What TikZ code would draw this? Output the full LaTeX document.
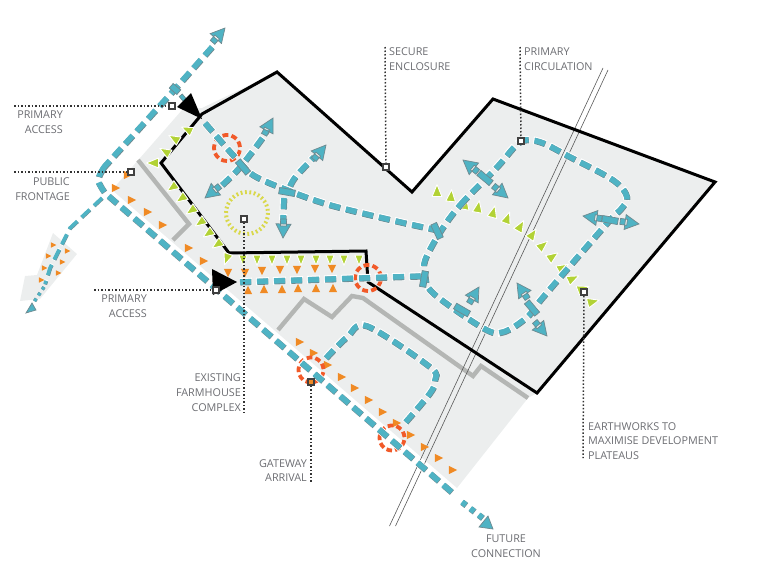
\documentclass[tikz,border=0pt]{standalone}
\usepackage{fontspec}
\setmainfont{Open Sans}
\definecolor{tealc}{HTML}{4FB3C4}
\definecolor{tealedge}{HTML}{6E8A90}
\definecolor{bgc}{HTML}{ECEEEE}
\definecolor{wallc}{HTML}{B4B6B4}
\definecolor{orangec}{HTML}{F08A24}
\definecolor{greenc}{HTML}{B2D235}
\definecolor{redc}{HTML}{F15A29}
\definecolor{yellowc}{HTML}{D9D84A}
\definecolor{textc}{HTML}{6C6D72}
\tikzset{
 site/.style={draw=black,line width=3pt,line join=miter},
 wall/.style={draw=wallc,line width=4.4pt},
 rail/.style={draw=black!65,line width=.6pt},
 leader/.style={draw=black!80,line width=1.5pt,dash pattern=on 1.5pt off 2pt},
 sqnode/.style={draw=black!75,fill=white,line width=1.6pt,minimum size=6pt,inner sep=0pt,rectangle},
 lbl/.style={text=textc,font=\fontsize{10.8}{14.7}\selectfont,inner sep=0pt},
 rdhalo/.style={draw=white,line width=7.8pt,dash pattern=on 13pt off 4pt,dash phase=1pt},
 rdshadow/.style={draw=tealedge,line width=6.2pt,dash pattern=on 11pt off 6pt,shift={(.35,.45)}},
 rdtop/.style={draw=tealc,line width=5.5pt,dash pattern=on 11pt off 6pt},
 barbox/.style={fill=tealc,draw=tealedge,line width=.7pt},
 ringseg/.style={line width=3.8pt},
}
\newcommand{\road}[2][]{%
 \path[rdhalo,#1] #2;\path[rdshadow,#1] #2;\path[rdtop,#1] #2;}
\newcommand{\rtip}[3]{% x y angle
 \filldraw[barbox,shift={(#1,#2)},rotate=#3]
   (-19,-3) rectangle (-12,3)
   (0,0) -- (-14,7.5) -- (-14,-7.5) -- cycle;}
\newcommand{\rbar}[3]{%
 \filldraw[barbox,shift={(#1,#2)},rotate=#3] (-8,-3.2) rectangle (8,3.2);}
\newcommand{\tri}[5]{% x y angle size colour
 \filldraw[fill=#5,draw=white,line width=.9pt,line join=round,shift={(#1,#2)},rotate=#3,scale=#4]
   (5.5,0) -- (-3.3,3.6) -- (-3.3,-3.6) -- cycle;}
\newcommand{\otri}[4]{%
 \fill[orangec,shift={(#1,#2)},rotate=#3,scale=#4] (5.5,0) -- (-3.3,4.4) -- (-3.3,-4.4) -- cycle;}
\newcommand{\ring}[3]{%
 \foreach \a in {10,50,...,350} {\draw[ringseg,redc,shift={(#1,#2)}] (\a:#3) arc[start angle=\a,end angle=\a+26,radius=#3];}}
\begin{document}
\begin{tikzpicture}[x=1pt,y=-1pt]
\useasboundingbox (0,0) rectangle (768,576);
% ground
\fill[bgc] (182,110) -- (112,190) -- (457,488) -- (528,398) -- (537,393) -- (715,182) -- (493,99) -- (412,192) -- (277,72) -- (202,108) -- cycle;
\fill[bgc] (53,233) -- (77,254) -- (40,299) -- (20,301) -- (25,276) -- (37,275) -- cycle;
% walls
\draw[wall] (138,160) -- (189,224) -- (173,240);
\draw[wall] (278,330) -- (304,299) -- (332,317) -- (352,296) -- (363,298) -- (473,376) -- (481,366) -- (528,398);
% rail
\draw[rail] (603,68) -- (389.5,526);
\draw[rail] (608,70) -- (395.5,526);
% site
\draw[site] (277,72) -- (412,192) -- (493,99) -- (715,182) -- (537,393) -- (368,282) -- (366,251) -- (229,253) -- (161,163) -- (202,114) -- cycle;
% green
\foreach \x in {243,257,272,287,301,316,330,344,359} {\tri{\x}{259}{-90}{1.15}{greenc}}
\tri{227}{258}{-110}{1.3}{greenc}
\tri{188}{130}{155}{1.3}{greenc}
\tri{175}{139}{150}{1.3}{greenc}
\tri{166}{152}{150}{1.3}{greenc}
\tri{154}{163}{180}{1.4}{greenc}
\foreach \x/\y in {173/187,182/198,192/210,201/222,209/233,218/244} {\tri{\x}{\y}{215}{1.3}{greenc}}
\tri{437}{192}{90}{1.35}{greenc}\tri{451}{197}{85}{1.35}{greenc}\tri{465}{205}{80}{1.35}{greenc}
\tri{478}{208}{80}{1.35}{greenc}\tri{493}{213}{75}{1.35}{greenc}\tri{507}{219}{70}{1.35}{greenc}
\tri{520}{227}{60}{1.35}{greenc}\tri{532}{235}{55}{1.35}{greenc}\tri{542}{246}{40}{1.35}{greenc}
\tri{552}{257}{35}{1.35}{greenc}\tri{562}{268}{30}{1.35}{greenc}\tri{572}{279}{25}{1.35}{greenc}
\tri{582}{289}{20}{1.35}{greenc}\tri{592}{302}{15}{1.35}{greenc}
% orange
\foreach \x/\y in {115/188,131/200,147/212,162/225,188/248,203/261,127/175,
 299/342,313/353,327/365,341/377,354/388,368/400,382/412,396/423,410/435,424/447,438/458,452/470}
 {\otri{\x}{\y}{0}{.95}}
\foreach \x/\y in {228/272,245/272,262/270,280/269,297/269,315/268,332/268} {\otri{\x}{\y}{-90}{.95}}
\foreach \x/\y in {248/291,264/290,282/290,298/289,316/289,333/289} {\otri{\x}{\y}{90}{.95}}
\foreach \x/\y in {53/245,67/251,48/256,62/262,44/268,58/273,41/280} {\otri{\x}{\y}{0}{.62}}
% lower loop first, so that the gateway rings lie over its ends
\road{plot[smooth,tension=.55] coordinates {(326,358) (347,337) (367,326) (430,367) (435,380) (430,393) (403,425)}}
% circles
\ring{227}{148}{13}
\ring{368}{278}{13}
\ring{311}{370}{12.5}
\ring{392}{438}{12.5}
\draw[yellowc,line width=4pt,dash pattern=on 1.8pt off 2.6pt] (247,213) circle (21);
% roads
\road{(212,47) -- (173,91) -- (104,167) plot[smooth] coordinates {(104,167) (98,180) (105,193)} -- (455,495)}
\path[rdshadow,dash pattern=on 5pt off 5.5pt] (462,502) -- (484,519);\path[rdtop,dash pattern=on 5pt off 5.5pt] (462,502) -- (484,519);
\road[line width=3.6pt]{(102,198) -- (70,228) -- (50,268) -- (45,284)}
\path[draw=tealedge,line width=3.6pt,dash pattern=on 3pt off 4pt] (44,287) -- (34,302);
\path[draw=tealc,line width=3pt,dash pattern=on 3pt off 4pt] (44,287) -- (34,302);
\road{plot[smooth,tension=.5] coordinates {(205,123) (233,155) (253,175) (287,190) (330,205) (400,222) (437,230)}}
\road{plot[smooth,tension=.6] coordinates {(222,185) (240,167) (263,137) (266,130)}}
\road{plot[smooth,tension=.6] coordinates {(290,186) (296,176) (314,157)}}
\road{(284,198) -- (283,220)}
\road{(240,282) -- (423,276)}
\road{plot[smooth cycle,tension=.55] coordinates {(440,232) (460,205) (497,167) (520,142) (540,142) (570,157) (613,180) (627,197) (620,210) (608,222) (543,297) (527,317) (503,332) (483,328) (433,293) (425,275) (425,260)}}
% crossbars and tips
\rbar{243}{167}{-50}\rbar{287}{192}{-10}\rbar{485}{178}{-40}\rbar{610}{220}{-10}
\rbar{532}{308}{-50}\rbar{462}{310}{-30}\rbar{437}{231}{-65}\rbar{424}{279}{80}
\filldraw[barbox,shift={(175,89)},rotate=-40] (-5,-3) rectangle (5,3);
\filldraw[barbox,shift={(183,98)},rotate=-50] (-3.5,-2) rectangle (3.5,2);
\rtip{225}{28}{49}
\filldraw[barbox] (26,313) -- (32,303) -- (36,310) -- cycle;
\filldraw[barbox] (488,516) -- (479,527) -- (493,529) -- cycle;
\rtip{273}{118}{62}\rtip{205}{198}{219}\rtip{326}{145}{50}\rtip{283}{238}{-92}
\rtip{463}{160}{141}\rtip{508}{198}{-40}\rtip{583}{216}{172}\rtip{639}{224}{-8}
\rtip{517}{283}{124}\rtip{547}{336}{-50}\rtip{479}{287}{59}
% big arrows
\fill[black] (202,119) -- (177,107) -- (191,93) -- cycle;
\fill[black] (237,282) -- (212,269) -- (213,295) -- cycle;
% leaders
\coordinate (a1) at (14,106);\coordinate (a2) at (14,172);\coordinate (a3) at (94,290);
\coordinate (a4) at (244,412);\coordinate (a5) at (311,482);\coordinate (a6) at (385,47);
\coordinate (a7) at (520,47);\coordinate (a8) at (583,458);
\node[sqnode] (s1) at (172,106) {};
\node[sqnode] (s2) at (131,172) {};
\node[sqnode] (s3) at (216,290) {};
\node[sqnode] (s4) at (244,219) {};
\node[sqnode,fill=orangec] (s5) at (311,382) {};
\node[sqnode] (s6) at (386,167) {};
\node[sqnode] (s7) at (521,141) {};
\node[sqnode] (s8) at (584,292) {};
\draw[leader] (a1) -- (s1);\draw[leader] (a2) -- (s2);\draw[leader] (a3) -- (s3);
\draw[leader] (s4) -- (a4);\draw[leader] (s5) -- (a5);\draw[leader] (a6) -- (s6);
\draw[leader] (a7) -- (s7);\draw[leader] (s8) -- (a8);
% labels
\node[lbl,align=right,anchor=east] (t1) at (63,122.5) {PRIMARY\\ACCESS};
\node[lbl,align=right,anchor=east] (t2) at (70,189) {PUBLIC\\FRONTAGE};
\node[lbl,align=right,anchor=east] (t3) at (147,306.5) {PRIMARY\\ACCESS};
\node[lbl,align=right,anchor=east] (t4) at (241,392.5) {EXISTING\\FARMHOUSE\\COMPLEX};
\node[lbl,align=right,anchor=east] (t5) at (307,470.5) {GATEWAY\\ARRIVAL};
\node[lbl,align=left,anchor=west] (t6) at (389,59) {SECURE\\ENCLOSURE};
\node[lbl,align=left,anchor=west] (t7) at (524,59) {PRIMARY\\CIRCULATION};
\node[lbl,align=left,anchor=west] (t8) at (588,441) {EARTHWORKS TO\\MAXIMISE DEVELOPMENT\\PLATEAUS};
\node[lbl,align=center] (t9) at (506,546) {FUTURE\\CONNECTION};
\end{tikzpicture}
\end{document}
